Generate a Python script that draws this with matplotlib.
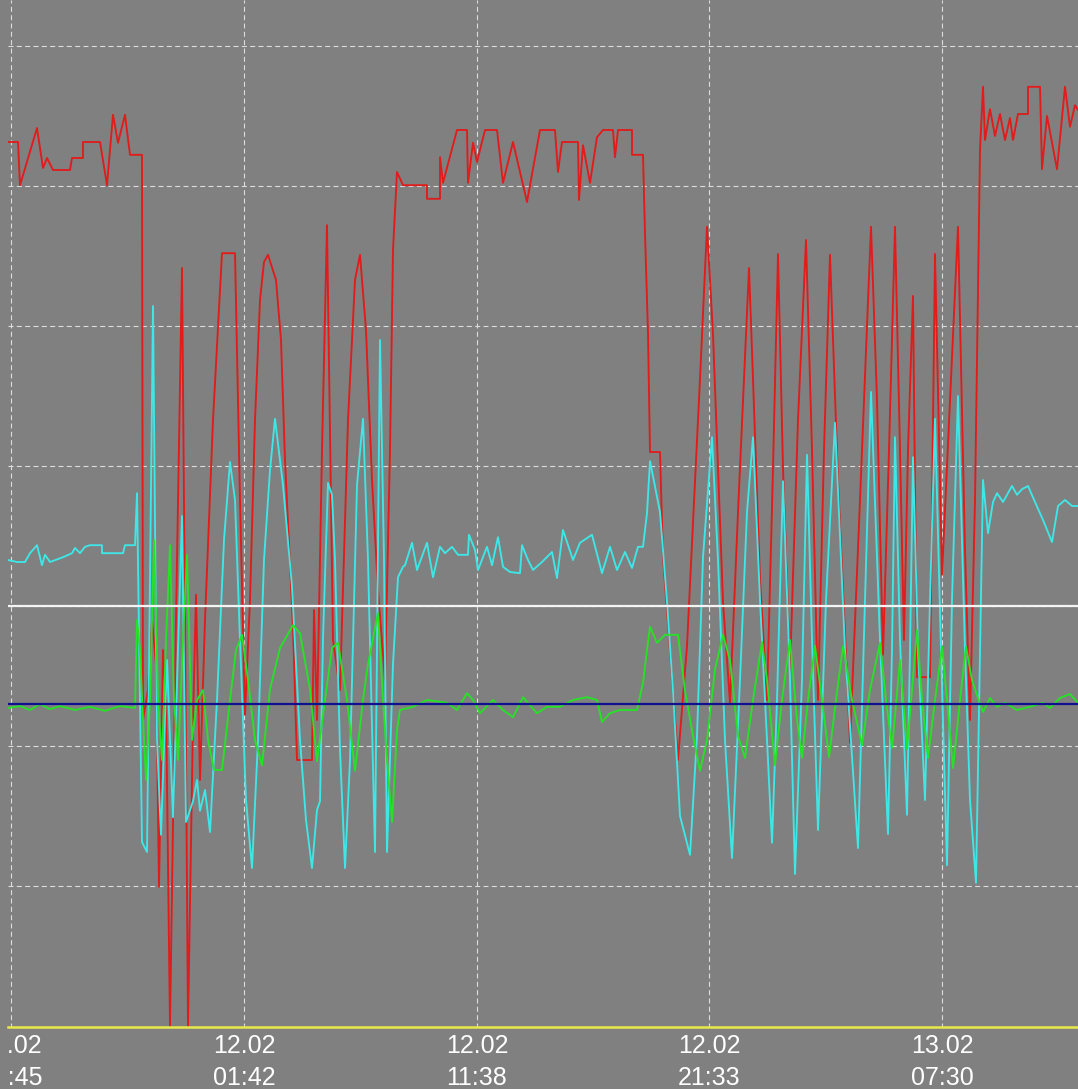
import matplotlib
matplotlib.use("Agg")
import matplotlib.pyplot as plt
from matplotlib.transforms import Bbox, TransformedBbox
from datetime import datetime

# ---------------- data ----------------
# x: sample number (logger interval ~10.25 min), y: raw signal units (0..256)
SAMPLE_MIN = 10.245
START = datetime(2024, 2, 11, 15, 37)

red_x = [0, 2.5, 3, 7.25, 8.75, 9.75, 11.25, 15.5, 16, 18.75, 18.75, 23, 24.75, 26.25, 27.5, 29.25, 30.5, 33.5,
         33.75, 35, 36, 37, 37.75, 38.75, 39.5, 40.5, 42, 43.5, 44.25, 45, 46.25, 47, 48, 49.25, 51.25, 53.5, 56.75,
         58, 59.25, 60.5, 61.75, 63, 64, 65, 67, 68.25, 69.25, 71.25, 72.25, 76, 76.5, 77.25, 78.5, 79.75, 81.25,
         83, 85, 86.75, 88, 89.5, 91, 92.5, 94.25, 95.5, 96.25, 97.25,
         98.75, 104.75, 104.75, 108, 108, 108.75, 112.25, 114.75, 115, 116.25, 117.25, 118, 119.25, 122.25, 123.75,
         126.25, 129.75, 133, 136.75, 137.5, 138.5, 142.5, 142.75, 143.75, 145.5, 147.25, 148.75, 151.25, 151.75,
         152.5, 156, 156, 158.75, 159.25, 160, 160.5, 163,
         163.75, 166.25, 167.5, 169.75, 173, 174.75, 176.25, 178.75, 180.5, 182.5, 185.25, 186.25, 188, 189.75,
         191.25, 192.5, 193.75, 195.5, 197.5, 199.5, 201, 202.5, 204, 205.5, 207.5, 210.5, 213, 215.75, 217.25,
         218.75, 220.25, 221.75, 223, 224, 225, 226.25, 227.25, 230.5, 231.75, 233.5, 235.5, 237.5, 239.25, 240.5,
         241.75, 243, 243.75,
         244.25, 245.5, 246.75, 248, 249.25, 250.5, 251.25, 252.5, 255, 255, 258, 258.5, 259.75, 262.25, 264.25,
         265.5, 266.75, 267.5]
red_y = [221, 221, 210.2, 224.5, 214.5, 217, 214, 214, 217, 217, 221, 221, 210.2, 227.8, 220.8, 227.8, 217.8, 217.8,
         76.5, 84, 101.5, 90.2, 34.8, 94, 81.5, 0, 101.5, 189.5, 101.5, 0, 76.5, 107.8, 61.5, 101.5, 151.5, 193.2, 193.2,
         131.5, 77.8, 106.5, 151.5, 181.5, 191, 192.8, 186.5, 171.5, 141.5, 99.5, 66.5, 66.5, 104, 76.5, 144, 200.2, 96.5,
         84, 151.5, 186.5, 192.8, 174, 136.5, 109, 86.5, 144, 194, 213.5,
         210.2, 210.2, 206.8, 206.8, 217.2, 210.8, 224, 224, 210.8, 220.8, 216, 219, 224, 224, 210.8,
         221, 206, 224, 224, 213.5, 221, 221, 206.5, 220.2, 210.8, 222.2, 224, 224, 217.2,
         224, 224, 217.8, 217.8, 198.2, 173.2, 143.5, 143.5,
         117.2, 83.8, 66.5, 95, 161.8, 199.8, 173, 106, 80.8, 128.5, 189.5, 161.8, 111.8, 81.5,
         139.5, 193, 139.5, 89, 151.5, 196.5, 144, 81.5, 144, 192.8, 136.5, 70.8, 131.5, 199.8, 156.5,
         92.8, 144, 199.8, 144, 96.5, 144, 182.5, 87.2, 87.2, 193, 112.8, 156.5, 199.8, 119, 76.5,
         131.5, 219, 234.8,
         221.5, 229.2, 222.5, 228, 221.5, 227, 221.5, 228, 228, 234.8, 234.8, 214.2, 227.5, 214.2, 234.8,
         224.8, 230.2, 229]

cyan_x = [0, 2.25, 4.25, 5.5, 7.25, 8.5, 9.25, 10.5, 13.75, 16, 16.75, 18, 19.25, 20.5, 23.5, 23.5, 28.75, 29.25, 31.75,
          32.25, 33.5, 34.75, 36.25, 37.25, 38.25, 39.75, 41.25, 43.5, 44.5, 46.25, 47.25, 48, 49.25, 50.5, 52.25, 54,
          55.5, 56.75, 58, 59.5, 61, 62.5, 64, 65.5, 66.75, 68.75, 71, 73, 74.5, 76, 77.25, 78, 78.75, 80, 81, 81.75,
          83, 84.25, 85.5, 87.25, 88.75, 90, 91.75, 93, 94, 94.75, 96.25, 97.5, 98.75,
          99.25, 101, 102.25, 104.75, 106.25, 108, 109.25, 111, 112.5, 115, 115.25, 116.75, 117.5, 119.75, 121, 122.5,
          123.75, 125.5, 128, 128.5, 130, 131.25, 133.5, 136, 137.25, 138.75, 141.25, 143, 146, 148.5, 150.5, 152.25,
          154.25, 156, 157.5, 158.75, 159.75, 160.5,
          163, 164.75, 166.25, 168, 170.5, 172.25, 173.75, 176, 177.5, 179.25, 181, 183, 184.75, 186.25, 188, 189.75,
          191, 192.25, 193.75, 195.5, 196.75, 198.5, 199.75, 201, 202.5, 204.5, 206.75, 209.25, 212.5, 214.25, 215.75,
          218, 220, 221, 221.75, 223, 224.75, 225.5, 226.25, 227.5, 229.25, 230.5, 231.75, 233.25, 234.75, 236, 237.5,
          239.25, 240.5, 242, 243, 243.75,
          245, 246.25, 247.25, 248.75, 251, 252.25, 253.5, 255, 256.75, 258.75, 261, 262.5, 264.25, 266, 267.5]
cyan_y = [116.5, 116, 116, 118.2, 120.2, 115.2, 117.8, 116, 117.2, 118.2, 119.5, 118.2, 119.8, 120.2, 120.2, 118.2,
          118.2, 120.2, 120.2,
          133.2, 46, 43.5, 180, 71.5, 47.8, 91.5, 52.2, 127.5, 51, 56.2, 61.5, 53.8, 59, 48.5, 81.5, 121.5,
          141, 131.5, 96.5, 56.5, 39.5, 71.5, 116.5, 139, 151.8, 135.2, 109.8, 71.5, 51.5, 39.5, 54, 56.2, 97, 135.8,
          132.8, 116.5, 69, 39.5, 66.5, 135.2, 151.8, 116.5, 43.5, 171.5, 116.5, 43.5, 90.5, 112.2, 114.8,
          115.2, 120.8, 114, 120.8, 112.2, 119.8, 118.2, 119.8, 117.8, 117.8, 122.8, 119, 114, 119.8, 115.2, 122.2,
          114.8, 113.5, 113.2, 120.2, 116.5, 114, 116, 118.5, 112, 124, 116.5, 120.8, 122.8, 113.2, 119.8, 114,
          118.5, 114.5, 119.8, 119.8, 128.2, 141.2,
          128.5, 106, 83.8, 52.5, 42.8, 72.5, 117.2, 147.2, 116.5, 71.5, 42, 86.5, 128.5, 147.2, 106.5, 71.5,
          45.8, 81.5, 136.2, 86.5, 38, 86.5, 142.8, 96.5, 49, 106.5, 150.8, 94, 44.5, 106.5, 158.5,
          96.5, 48, 94, 147.2, 96.5, 52.8, 94, 142.2, 94, 56.5, 106.5, 151.8, 94, 40.2, 106.5, 157.5,
          94, 56.5, 35.8, 94, 136.5,
          123.2, 131, 133.2, 131, 135, 132.8, 134.2, 135, 131, 126.5, 121, 130, 131.5, 130, 130]

green_x = [0, 3, 5.5, 8, 10.5, 13, 16.75, 20.5, 24.25, 28, 31.75,
           32.25, 33, 33.75, 34.5, 35.5, 36.5, 37.5, 38.5, 39.5, 40.5, 41.5, 42.5, 43.75, 44.75, 46, 47.25, 48.75, 50,
           51.5, 53.5, 55.5, 57, 58.5, 60, 61.75, 63.5, 65.5, 68, 71.25, 73, 75.5, 77.25, 79.25, 81, 82.5, 84.75,
           86.75, 88.75, 90, 92.5, 93.75, 94.75, 96, 97.25, 98,
           101.25, 104.75, 109.75, 112.25, 114.75, 116.25, 118, 121.25, 123.75, 126.25, 128.75, 132.25, 134.75, 138,
           141.25, 144.75, 147.25, 148.5, 150.5, 153, 157.25, 158.75, 159.75, 160.5, 162.25, 164.25, 167.5,
           169.25, 171.25, 173, 174.75, 176.75, 178.75, 180.5, 182.5, 184.25, 186.25, 188.5, 189.75, 191.75, 193.5,
           195.5, 197.25, 198.5, 200, 201.75, 203.5, 205.25, 207, 208.75, 211, 213.5, 215.5, 218, 219.5, 221, 223,
           224.75, 226, 227.25, 228.5, 230, 231.75, 233.5, 234.75, 236.25, 238, 239.5, 241, 243,
           243.75, 245.5, 247.25, 249.25, 252.25, 255.5, 258.75, 260.5, 263, 265.5, 267.5]
green_y = [79.5, 80, 79, 80.5, 79.2, 80, 79, 79.8, 78.8, 80, 79.5,
           101.5, 94, 76.5, 61.5, 81.5, 121.5, 81.5, 66.5, 96.5, 120.2, 81.5, 66.5, 96.5, 117.8, 71.5, 81.5, 84, 71.5,
           64, 64, 81.5, 94, 97.8, 86.5, 71.5, 65.2, 84.2, 94.5, 100.2, 98.2, 84.2, 66.2, 81.5, 94.5, 95.8, 81.5,
           63.8, 81.5, 90.5, 103.2, 81.5, 66.5, 51, 74, 79,
           79.8, 81.5, 80.8, 79, 83.2, 81.5, 78.2, 81.5, 79, 77.2, 82.2, 78.2, 79.8, 79.8,
           81.5, 82.2, 81.5, 76, 78.2, 79, 79, 85.8, 94, 99.8, 95.8, 97.8, 97.8,
           83.8, 72.5, 63.8, 71.5, 89.2, 97.8, 91.5, 72.5, 67, 81.5, 96, 86.5, 65.2, 81.5,
           96.5, 76.5, 67, 81.5, 95, 81.5, 67.2, 81.5, 95, 81.5, 70.2, 84, 95.8, 81.5, 69.5, 91.5,
           69.2, 84, 99, 81.5, 67, 81.5, 94.8, 81.5, 64.5, 81.5, 94.8, 86.5, 80.5,
           78.5, 82, 79.8, 80.8, 79, 79.8, 80.8, 79.5, 82, 83, 80.8]

blue_level = 80.4      # reference line (blue)
white_level = 105.0    # upper limit line (white)
grid_levels = [35, 70, 140, 175, 210, 245]

tick_times = [datetime(2024, 2, 11, 15, 45), datetime(2024, 2, 12, 1, 42), datetime(2024, 2, 12, 11, 38),
              datetime(2024, 2, 12, 21, 33), datetime(2024, 2, 13, 7, 30)]
tick_labels = ["11.02\n15:45", "12.02\n01:42", "12.02\n11:38", "12.02\n21:33", "13.02\n07:30"]

# ---------------- plot ----------------
plt.rcParams['lines.scale_dashes'] = False
W, H = 1078, 1089
fig = plt.figure(figsize=(W / 100, H / 100), dpi=100)
BG = '#808080'
fig.patch.set_facecolor(BG)
ax = fig.add_axes([8 / W, (H - 1028) / H, (W - 8) / W, 1028 / H])
ax.set_facecolor(BG)
for sp in ax.spines.values():
    sp.set_visible(False)

ax.set_xlim(0, 267.5)
ax.set_ylim(-0.5, 256.5)

grid_kw = dict(color='#dcdcdc', lw=0.8, linestyle=(0, (3.6, 2.4)), zorder=1)
for g in grid_levels + [white_level]:
    ax.axhline(g, **grid_kw)
tick_pos = [(t - START).total_seconds() / 60.0 / SAMPLE_MIN for t in tick_times]
for p in tick_pos:
    ax.axvline(p, **grid_kw)

ax.plot(red_x, red_y, color='#e21b1b', lw=1.35, zorder=2)
ax.plot(cyan_x, cyan_y, color='#3fe6e6', lw=1.35, zorder=3)
ax.plot(green_x, green_y, color='#26e226', lw=1.35, zorder=4)

ax.axhline(white_level, color='#f4f4f4', lw=1.6, zorder=6)
ax.axhline(blue_level, color='#101090', lw=1.6, zorder=6)
ax.axhline(-0.3, color='#e8e84a', lw=1.8, zorder=7, clip_on=False)

ax.set_yticks([])
ax.set_xticks(tick_pos)
ax.set_xticklabels(tick_labels, color='white', fontsize=18,
                   family=['Liberation Sans', 'DejaVu Sans'], linespacing=1.42)
ax.tick_params(axis='x', length=0, pad=4)

# labels are clipped at the left border of the plot frame, as in the original display
clip = TransformedBbox(Bbox([[7 / W, 0], [1, 1]]), fig.transFigure)
for lbl in ax.get_xticklabels():
    lbl.set_clip_on(True)
    lbl.set_clip_box(clip)

fig.savefig('out.png', dpi=100, facecolor=BG)
